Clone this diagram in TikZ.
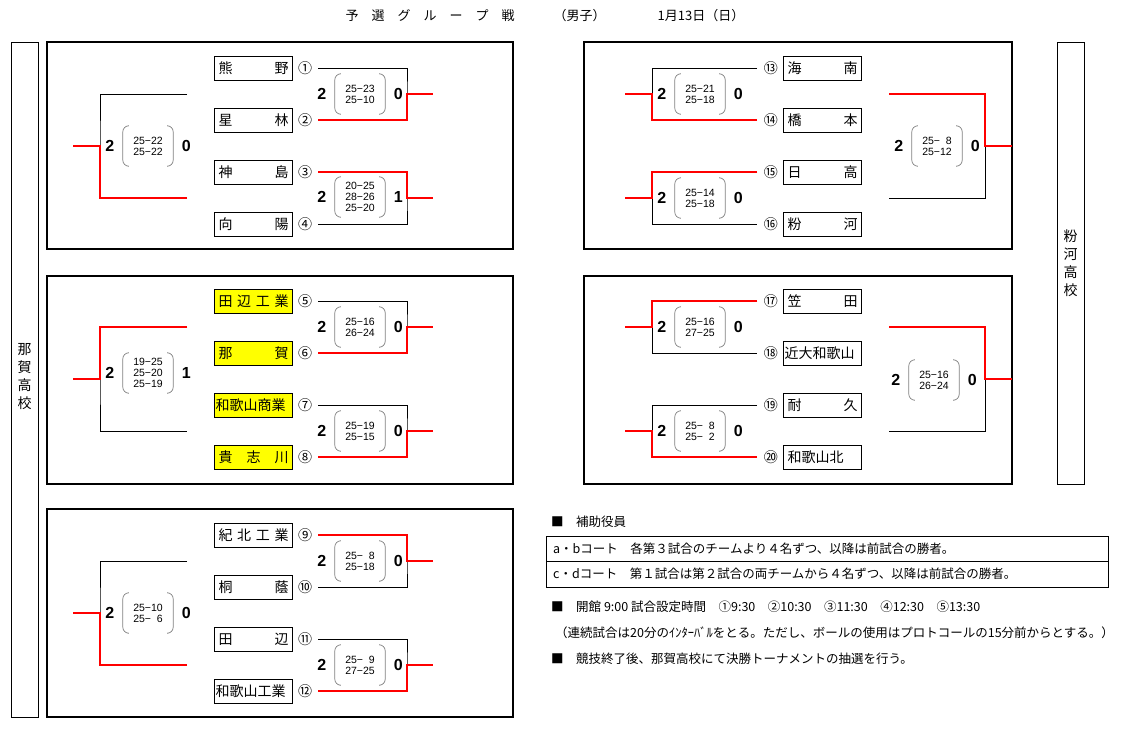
\documentclass[tikz,border=0pt]{standalone}
\usepackage{fontspec}
\setmainfont{Noto Sans CJK JP}
\newfontfamily\numfont{Liberation Sans}
\usetikzlibrary{positioning}
\definecolor{winred}{RGB}{255,0,0}
\definecolor{teamyellow}{RGB}{255,255,0}
\tikzset{
    panel/.style={draw, line width=1.6pt},
    side/.style={draw, line width=0.8pt},
    team/.style={draw, line width=0.8pt, minimum height=24, text width=70, inner sep=4pt, font=\fontsize{14}{16}\selectfont},
    yteam/.style={team, fill=teamyellow},
    num/.style={inner sep=0pt, font=\fontsize{14}{16}\selectfont},
    lose/.style={line width=0.8pt},
    win/.style={winred, line width=1.6pt},
    scr/.style={align=center, inner sep=1pt, minimum width=50, minimum height=40, font=\numfont\fontsize{10.5}{11}\selectfont},
    paren/.style={gray, line width=0.7pt, rounded corners=6pt},
    pts/.style={font=\numfont\bfseries\fontsize{16}{16}\selectfont},
    note/.style={anchor=west, inner sep=0pt, font=\fontsize{12.5}{14}\selectfont}
}
% bracket: x start, x vertical, x out, y top, y bottom, winner (1 top, 2 bottom)
\newcommand{\bkt}[6]{%
    \coordinate (bt) at (#1,#4);
    \coordinate (bb) at (#1,#5);
    \coordinate (bm) at (#2,{(#4+#5)/2});
    \coordinate (bo) at (#3,{(#4+#5)/2});
    \draw[lose] (bt) -| (bm) |- (bb);
    \ifnum#6=1 \draw[win] (bt) -| (bm) -- (bo);
    \else \draw[win] (bb) -| (bm) -- (bo); \fi
}
% score: x, y, left, right, sets
\newcommand{\score}[5]{%
    \node[scr] (s) at (#1,#2) {#5};
    \draw[paren] ([xshift=5]s.north west) -- (s.north west) -- (s.south west) -- ([xshift=5]s.south west);
    \draw[paren] ([xshift=-5]s.north east) -- (s.north east) -- (s.south east) -- ([xshift=-5]s.south east);
    \node[pts] at ([xshift=-13]s.west) {#3};
    \node[pts] at ([xshift=13]s.east) {#4};
}
\newcommand{\fsp}{\phantom{0}}
\begin{document}
\begin{tikzpicture}[x=1pt, y=-1pt]
\useasboundingbox (0,0) rectangle (1123,735);

% title
\node[font=\fontsize{13}{15}\selectfont] (title) at (545,16) {予\quad 選\quad グ\quad ル\quad ー\quad プ\quad 戦\qquad\quad（男子）\qquad\qquad 1月13日（日）};

% side boxes
\draw[side] (11,42) rectangle (38,717);
\node[align=center, font=\fontsize{14}{18}\selectfont] (naga) at (24.5,377) {那\\賀\\高\\校};
\draw[side] (1057,42) rectangle (1084,484);
\node[align=center, font=\fontsize{14}{18}\selectfont] (kokawa) at (1070.5,263) {粉\\河\\高\\校};

% panels
\draw[panel] (47,42) rectangle (513,249);
\draw[panel] (47,276) rectangle (513,484);
\draw[panel] (47,509) rectangle (513,717);
\draw[panel] (584,42) rectangle (1012,249);
\draw[panel] (584,276) rectangle (1012,484);

% left teams
\node[team]  (t1)  at (253.5,68)  {熊\hfill 野};
\node[team]  (t2)  at (253.5,120) {星\hfill 林};
\node[team]  (t3)  at (253.5,172) {神\hfill 島};
\node[team]  (t4)  at (253.5,224) {向\hfill 陽};
\node[yteam] (t5)  at (253.5,301) {田\hfill 辺\hfill 工\hfill 業};
\node[yteam] (t6)  at (253.5,353) {那\hfill 賀};
\node[yteam, inner sep=1pt, text width=76] (t7) at (253.5,405) {和歌山商業};
\node[yteam] (t8)  at (253.5,457) {貴\hfill 志\hfill 川};
\node[team]  (t9)  at (253.5,535) {紀\hfill 北\hfill 工\hfill 業};
\node[team]  (t10) at (253.5,587) {桐\hfill 蔭};
\node[team]  (t11) at (253.5,639) {田\hfill 辺};
\node[team, inner sep=1pt, text width=76] (t12) at (253.5,691) {和歌山工業};
\foreach \i/\c in {1/①,2/②,3/③,4/④,5/⑤,6/⑥,7/⑦,8/⑧,9/⑨,10/⑩,11/⑪,12/⑫}
    \node[num, right=5pt of t\i] (n\i) {\c};

% right teams
\node[team] (t13) at (822.5,68)  {海\hfill 南};
\node[team] (t14) at (822.5,120) {橋\hfill 本};
\node[team] (t15) at (822.5,172) {日\hfill 高};
\node[team] (t16) at (822.5,224) {粉\hfill 河};
\node[team] (t17) at (822.5,301) {笠\hfill 田};
\node[team, inner sep=1pt, text width=76] (t18) at (822.5,353) {近大和歌山};
\node[team] (t19) at (822.5,405) {耐\hfill 久};
\node[team] (t20) at (822.5,457) {和歌山北};
\foreach \i/\c in {13/⑬,14/⑭,15/⑮,16/⑯,17/⑰,18/⑱,19/⑲,20/⑳}
    \node[num, left=5pt of t\i] (n\i) {\c};

% left brackets
\bkt{318}{407}{433}{68}{120}{2}
\bkt{318}{407}{433}{172}{224}{1}
\bkt{187}{100}{73}{94}{198}{2}
\bkt{318}{407}{433}{301}{353}{2}
\bkt{318}{407}{433}{405}{457}{2}
\bkt{187}{100}{73}{327}{431}{1}
\bkt{318}{407}{433}{535}{587}{1}
\bkt{318}{407}{433}{639}{691}{2}
\bkt{187}{100}{73}{561}{665}{2}

% right brackets
\bkt{757}{652}{625}{68}{120}{2}
\bkt{757}{652}{625}{172}{224}{1}
\bkt{889}{985}{1012}{94}{198}{1}
\bkt{757}{652}{625}{301}{353}{1}
\bkt{757}{652}{625}{405}{457}{2}
\bkt{889}{985}{1012}{327}{431}{1}

% left scores
\score{360}{94}{2}{0}{25−23\\25−10}
\score{360}{197}{2}{1}{20−25\\28−26\\25−20}
\score{148}{146}{2}{0}{25−22\\25−22}
\score{360}{327}{2}{0}{25−16\\26−24}
\score{360}{431}{2}{0}{25−19\\25−15}
\score{148}{373}{2}{1}{19−25\\25−20\\25−19}
\score{360}{561}{2}{0}{25−\fsp 8\\25−18}
\score{360}{665}{2}{0}{25−\fsp 9\\27−25}
\score{148}{613}{2}{0}{25−10\\25−\fsp 6}

% right scores
\score{700}{94}{2}{0}{25−21\\25−18}
\score{700}{198}{2}{0}{25−14\\25−18}
\score{937}{146}{2}{0}{25−\fsp 8\\25−12}
\score{934}{380}{2}{0}{25−16\\26−24}
\score{700}{327}{2}{0}{25−16\\27−25}
\score{700}{431}{2}{0}{25−\fsp 8\\25−\fsp 2}

% notes
\node[note] (h1) at (551,522) {■\quad 補助役員};
\draw[side] (546,536) rectangle (1108,561);
\draw[side] (546,561) rectangle (1108,587);
\node[note] (r1) at (553,548.5) {a・bコート\quad 各第３試合のチームより４名ずつ、以降は前試合の勝者。};
\node[note] (r2) at (553,574) {c・dコート\quad 第１試合は第２試合の両チームから４名ずつ、以降は前試合の勝者。};
\node[note] (h2) at (551,607) {■\quad 開館 9:00 試合設定時間\quad ①9:30\quad ②10:30\quad ③11:30\quad ④12:30\quad ⑤13:30};
\node[note] (h3) at (555,633) {（連続試合は20分のｲﾝﾀｰﾊﾞﾙをとる。ただし、ボールの使用はプロトコールの15分前からとする。）};
\node[note] (h4) at (551,659) {■\quad 競技終了後、那賀高校にて決勝トーナメントの抽選を行う。};
\end{tikzpicture}
\end{document}
